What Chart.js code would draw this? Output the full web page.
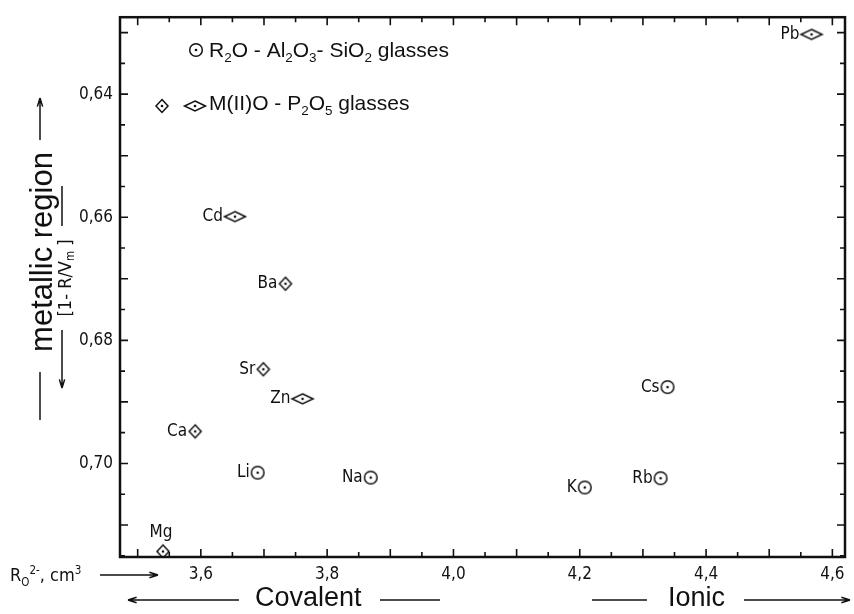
<!DOCTYPE html>
<html>
<head>
<meta charset="utf-8">
<script src="https://cdn.jsdelivr.net/npm/chart.js@4.4.1/dist/chart.umd.min.js"></script>
<style>
  body { margin: 0; background: #fff; }
</style>
</head>
<body>
<canvas id="myChart" width="854" height="614"></canvas>
<script>
// Datos: vidrios R2O - Al2O3 - SiO2 (círculos)
const r2oNames = ['Li', 'Na', 'K', 'Rb', 'Cs']
const r2oX = [3.690, 3.869, 4.208, 4.328, 4.339]
const r2oY = [0.7015, 0.7023, 0.7039, 0.7024, 0.6876]

// Datos: vidrios M(II)O - P2O5 (rombos)
const mioNames = ['Mg', 'Ca', 'Sr', 'Ba', 'Zn', 'Cd', 'Pb']
const mioX = [3.540, 3.591, 3.699, 3.734, 3.761, 3.654, 4.567]
const mioY = [0.7143, 0.6948, 0.6847, 0.6708, 0.6895, 0.6599, 0.6303]

// Etiquetas de ejes
const xTicks = [3.6, 3.8, 4.0, 4.2, 4.4, 4.6]
const yTicks = [0.64, 0.66, 0.68, 0.70]

const ink = '#111'
const techFont = '"DejaVu Sans Condensed", "DejaVu Sans", sans-serif'
const sansFont = '"Liberation Sans", Arial, sans-serif'
const wideMarkers = ['Zn', 'Cd', 'Pb']

// Marcadores dibujados en un canvas pequeño
const makeMarker = kind => {
  const c = document.createElement('canvas')
  const w = kind == 'wide' ? 26 : 18
  const h = 18
  c.width = w
  c.height = h
  const g = c.getContext('2d')
  const cx = w / 2, cy = h / 2
  g.strokeStyle = ink
  g.fillStyle = ink
  g.lineWidth = 1.5
  g.beginPath()
  if (kind == 'circle') {
    g.arc(cx, cy, 6.3, 0, Math.PI * 2)
  } else if (kind == 'diamond') {
    g.moveTo(cx, cy - 6.5); g.lineTo(cx + 6, cy); g.lineTo(cx, cy + 6.5); g.lineTo(cx - 6, cy); g.closePath()
  } else {
    g.moveTo(cx, cy - 5); g.lineTo(cx + 10.5, cy); g.lineTo(cx, cy + 5); g.lineTo(cx - 10.5, cy); g.closePath()
  }
  g.stroke()
  g.beginPath()
  g.arc(cx, cy, 1.3, 0, Math.PI * 2)
  g.fill()
  return c
}
const circleImg = makeMarker('circle')
const diamondImg = makeMarker('diamond')
const wideImg = makeMarker('wide')

// Texto con subíndices / superíndices: [texto, 0 normal | 1 sub | 2 sup]
const richText = (ctx, x, y, parts, size, family) => {
  let cx = x
  parts.forEach(([t, m]) => {
    const s = m ? size * 0.64 : size
    ctx.font = `${s}px ${family}`
    const dy = m == 1 ? size * 0.26 : m == 2 ? -size * 0.4 : 0
    ctx.fillText(t, cx, y + dy)
    cx += ctx.measureText(t).width
  })
  return cx - x
}

// Flecha con punta abierta en (x2, y2)
const arrow = (ctx, x1, y1, x2, y2, head) => {
  ctx.beginPath()
  ctx.moveTo(x1, y1)
  ctx.lineTo(x2, y2)
  if (head) {
    const a = Math.atan2(y2 - y1, x2 - x1)
    ctx.moveTo(x2, y2)
    ctx.lineTo(x2 - 9 * Math.cos(a - 0.3), y2 - 9 * Math.sin(a - 0.3))
    ctx.moveTo(x2, y2)
    ctx.lineTo(x2 - 9 * Math.cos(a + 0.3), y2 - 9 * Math.sin(a + 0.3))
  }
  ctx.stroke()
}

// Marco, marcas interiores, etiquetas de puntos, leyenda y títulos
const decorPlugin = {
  id: 'decor',
  afterDatasetsDraw(chart) {
    const ctx = chart.ctx
    const {left, right, top, bottom} = chart.chartArea
    const xs = chart.scales.x, ys = chart.scales.y
    ctx.save()
    ctx.strokeStyle = ink
    ctx.fillStyle = ink

    // marco
    ctx.lineWidth = 2.5
    ctx.strokeRect(left, top, right - left, bottom - top)

    // marcas hacia dentro en los cuatro lados
    ctx.lineWidth = 1.6
    ctx.beginPath()
    for (let k = 70; k <= 92; k++) {
      const px = xs.getPixelForValue(k * 0.05)
      const len = k % 2 == 0 ? 8 : 5
      ctx.moveTo(px, bottom); ctx.lineTo(px, bottom - len)
      ctx.moveTo(px, top); ctx.lineTo(px, top + len)
    }
    for (let k = 126; k <= 143; k++) {
      const py = ys.getPixelForValue(k * 0.005)
      if (py < top || py > bottom) continue
      const len = k % 2 == 0 ? 8 : 5
      ctx.moveTo(left, py); ctx.lineTo(left + len, py)
      ctx.moveTo(right, py); ctx.lineTo(right - len, py)
    }
    ctx.stroke()

    // nombres de los elementos
    ctx.font = `17px ${techFont}`
    ctx.textBaseline = 'middle'
    chart.data.datasets.forEach((ds, di) => {
      const meta = chart.getDatasetMeta(di)
      meta.data.forEach((pt, i) => {
        const name = ds.names[i]
        if (name == 'Mg') {
          ctx.textAlign = 'center'
          ctx.fillText(name, pt.x - 2, pt.y - 19)
        } else {
          const half = wideMarkers.includes(name) ? 11 : 7
          ctx.textAlign = 'right'
          ctx.fillText(name, pt.x - half - 1, pt.y)
        }
      })
    })

    // leyenda
    ctx.textAlign = 'left'
    ctx.textBaseline = 'alphabetic'
    ctx.drawImage(circleImg, 196 - 9, 50 - 9)
    richText(ctx, 209, 57, [['R', 0], ['2', 1], ['O - Al', 0], ['2', 1], ['O', 0], ['3', 1], ['- SiO', 0], ['2', 1], [' glasses', 0]], 21, sansFont)
    ctx.drawImage(diamondImg, 162 - 9, 106 - 9)
    ctx.drawImage(wideImg, 195 - 13, 106 - 9)
    richText(ctx, 209, 110, [['M(II)O - P', 0], ['2', 1], ['O', 0], ['5', 1], [' glasses', 0]], 21, sansFont)

    // título eje x
    ctx.lineWidth = 1.5
    richText(ctx, 10, 581, [['R', 0], ['O', 1], ['2-', 2], [', cm', 0], ['3', 2]], 18, techFont)
    arrow(ctx, 100, 575, 158, 575, true)
    ctx.font = `27px ${sansFont}`
    ctx.textBaseline = 'middle'
    ctx.fillText('Covalent', 255, 599)
    ctx.fillText('Ionic', 668, 599)
    arrow(ctx, 239, 600, 128, 600, true)
    arrow(ctx, 380, 600, 440, 600, false)
    arrow(ctx, 592, 600, 647, 600, false)
    arrow(ctx, 744, 600, 850, 600, true)

    // títulos eje y
    ctx.save()
    ctx.translate(43, 252)
    ctx.rotate(-Math.PI / 2)
    ctx.textAlign = 'center'
    ctx.font = `31px ${sansFont}`
    ctx.fillText('metallic region', 0, 0)
    ctx.restore()
    arrow(ctx, 40, 140, 40, 98, true)
    arrow(ctx, 40, 372, 40, 420, false)

    ctx.save()
    ctx.translate(66, 278)
    ctx.rotate(-Math.PI / 2)
    ctx.textAlign = 'left'
    ctx.textBaseline = 'middle'
    const parts = [['[1- R/V', 0], ['m', 1], [' ]', 0]]
    ctx.globalAlpha = 0
    const w = richText(ctx, 0, 0, parts, 18, techFont)
    ctx.globalAlpha = 1
    richText(ctx, -w / 2, 0, parts, 18, techFont)
    ctx.restore()
    arrow(ctx, 62, 186, 62, 226, false)
    arrow(ctx, 62, 330, 62, 388, true)

    ctx.restore()
  }
}

const data = {
  datasets: [
    {
      label: 'R2O - Al2O3 - SiO2 glasses',
      names: r2oNames,
      data: r2oX.map((x, i) => ({x: x, y: r2oY[i]})),
      pointStyle: circleImg,
      pointRadius: 8
    },
    {
      label: 'M(II)O - P2O5 glasses',
      names: mioNames,
      data: mioX.map((x, i) => ({x: x, y: mioY[i]})),
      pointStyle: mioNames.map(n => wideMarkers.includes(n) ? wideImg : diamondImg),
      pointRadius: 8
    }
  ]
}

const config = {
  type: 'scatter',
  data: data,
  options: {
    responsive: false,
    animation: false,
    layout: {padding: {left: 0, right: 5, top: 15, bottom: 27}},
    plugins: {
      legend: {display: false},
      tooltip: {enabled: false}
    },
    scales: {
      x: {
        type: 'linear',
        min: 3.472,
        max: 4.62,
        grid: {display: false, drawTicks: false},
        border: {display: false},
        afterFit: s => { s.height = 30 },
        afterBuildTicks: s => { s.ticks = xTicks.map(v => ({value: v})) },
        ticks: {
          color: ink,
          padding: 7,
          font: {family: techFont, size: 17},
          callback: v => v.toFixed(1).replace('.', ',')
        }
      },
      y: {
        type: 'linear',
        reverse: true,
        min: 0.6275,
        max: 0.7152,
        grid: {display: false, drawTicks: false},
        border: {display: false},
        afterFit: s => { s.width = 120 },
        afterBuildTicks: s => { s.ticks = yTicks.map(v => ({value: v})) },
        ticks: {
          color: ink,
          padding: 7,
          font: {family: techFont, size: 17},
          callback: v => v.toFixed(2).replace('.', ',')
        }
      }
    }
  },
  plugins: [decorPlugin]
}

const myChart = new Chart(document.getElementById('myChart'), config)
</script>
</body>
</html>
